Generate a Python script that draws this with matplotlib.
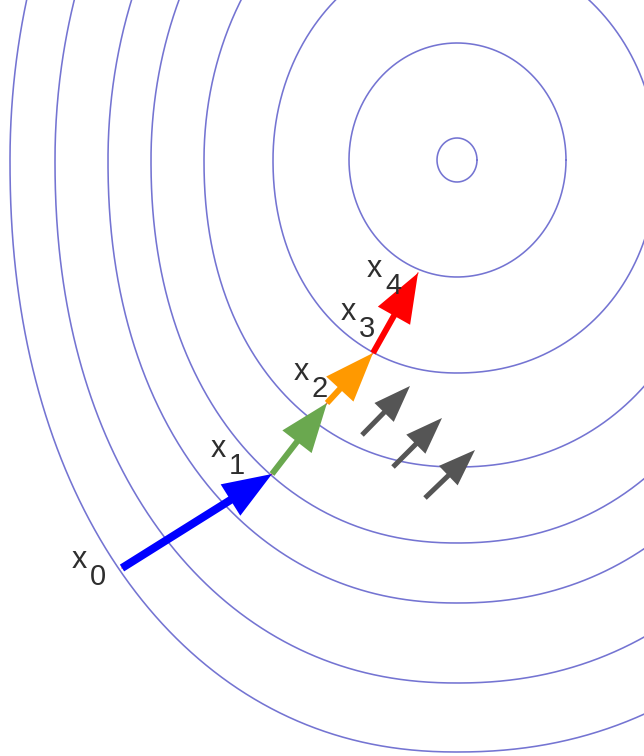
import numpy as np
import matplotlib
matplotlib.use("Agg")
import matplotlib.pyplot as plt

# Level curves of the objective (pixel-like drawing units, y grows downward)
center_x, center_y = 457, 160
radius_y = [22, 117, 213, 307, 383, 443, 523, 592]
radius_left = [20, 108, 184, 253, 306, 349, 402, 447]
radius_right = [20, 109, 200, 263, 315, 360, 416, 479]
lower_exponent = [2.0, 2.0, 2.1, 2.15, 2.15, 2.15, 2.15, 2.15]

# Gradient descent iterates x0 .. x4
iter_x = [122, 272, 327, 373, 418]
iter_y = [568, 474, 403, 353, 273]
iter_labels = ["0", "1", "2", "3", "4"]
step_colors = ["#0000ff", "#6aa84f", "#ff9900", "#ff0000"]
step_widths = [8, 6, 6, 6]

# Gradient direction arrows (tail -> tip)
grad_tail_x = [362, 393, 425]
grad_tail_y = [435, 467, 498]
grad_tip_x = [410, 442, 475]
grad_tip_y = [386, 418, 450]

# Label anchor points for "x" and its subscript
label_x = [72, 211, 294, 341, 367]
label_y = [568, 457, 380, 320, 277]

W, H = 644, 756
fig = plt.figure(figsize=(W / 100, H / 100), dpi=100)
ax = fig.add_axes([0, 0, 1, 1])
ax.set_xlim(0, W)
ax.set_ylim(H, 0)
ax.axis("off")

t = np.linspace(0, 2 * np.pi, 1200)
c, s = np.cos(t), np.sin(t)
for ry, rl, rr, n in zip(radius_y, radius_left, radius_right, lower_exponent):
    rx = np.where(c < 0, rl, rr)
    # lower half slightly squarer than an ellipse
    p = np.where(s > 0, n, 2.0)
    xs = center_x + rx * np.sign(c) * np.abs(c) ** (2 / p)
    ys = center_y + ry * np.sign(s) * np.abs(s) ** (2 / p)
    ax.plot(xs, ys, color="#7474d2", lw=1.15, solid_capstyle="round", zorder=1)

# thin path through the iterates
ax.plot(iter_x, iter_y, color="#ff3030", lw=1.0, alpha=0.8, zorder=2)

for i in range(4):
    x0, y0 = iter_x[i], iter_y[i]
    dx, dy = iter_x[i + 1] - x0, iter_y[i + 1] - y0
    ax.arrow(x0, y0, dx, dy, width=step_widths[i], head_width=37,
             head_length=49, length_includes_head=True,
             color=step_colors[i], lw=0, zorder=3 + i)

for tx, ty, hx, hy in zip(grad_tail_x, grad_tail_y, grad_tip_x, grad_tip_y):
    ax.arrow(tx, ty, hx - tx, hy - ty, width=5, head_width=27,
             head_length=37, length_includes_head=True,
             color="#555555", lw=0, zorder=3)

for lx, ly, sub in zip(label_x, label_y, iter_labels):
    ax.text(lx, ly, "x", fontsize=22, family="Liberation Sans",
            color="#2e2e2e", ha="left", va="baseline", zorder=8)
    ax.text(lx + 18, ly + 17, sub, fontsize=21, family="Liberation Sans",
            color="#2e2e2e", ha="left", va="baseline", zorder=8)

fig.savefig("out.png", dpi=100, facecolor="white")
